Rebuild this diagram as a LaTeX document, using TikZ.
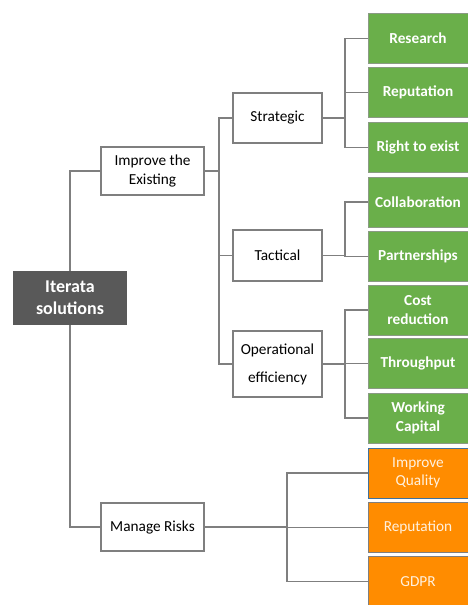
\documentclass[tikz,border=0pt]{standalone}
\usepackage{fontspec}
\setmainfont{Carlito}
\definecolor{conn}{HTML}{7F7F7F}
\definecolor{rootfill}{HTML}{595959}
\definecolor{greenfill}{HTML}{6AAF4A}
\definecolor{greenline}{HTML}{8A9A84}
\definecolor{orangefill}{HTML}{FF8C00}
\definecolor{orangetext}{HTML}{FFF1DE}
\definecolor{blueline}{HTML}{41719C}
\begin{document}
\begin{tikzpicture}[x=1pt,y=-1pt,
  every node/.style={inner sep=0pt, align=center},
  rootbox/.style={rectangle, fill=rootfill, text=white, font=\fontsize{18}{22}\selectfont\bfseries, minimum width=114pt, minimum height=54pt},
  midbox/.style={rectangle, draw=conn, line width=1.2pt, fill=white, text=black, font=\fontsize{15.3}{18.5}\selectfont},
  greenbox/.style={rectangle, draw=greenline, line width=1pt, fill=greenfill, text=white, font=\fontsize{15.3}{18.5}\selectfont\bfseries, minimum width=100pt, minimum height=50pt},
  orangebox/.style={rectangle, draw=conn, line width=1pt, fill=orangefill, text=orangetext, font=\fontsize{15.3}{18.5}\selectfont, minimum width=100pt, minimum height=50pt},
  conline/.style={draw=conn, line width=1.5pt}
]
\useasboundingbox (0,0) rectangle (467,605);
\fill[white] (0,0) rectangle (467,605);

% nodes
\node[rootbox] (root) at (70,298) {Iterata\\solutions};
\node[midbox, minimum width=103pt, minimum height=48pt] (improve) at (152.5,171) {Improve the\\Existing};
\node[midbox, minimum width=103pt, minimum height=48pt] (manage) at (152.5,527) {Manage Risks};
\node[midbox, minimum width=89pt, minimum height=50pt] (strategic) at (277.5,118) {Strategic};
\node[midbox, minimum width=89pt, minimum height=51pt] (tactical) at (277.5,255.5) {Tactical};
\node[midbox, minimum width=89pt, minimum height=66pt, font=\fontsize{15.3}{28}\selectfont] (operational) at (277.5,364) {Operational\\efficiency};

\node[greenbox] (research) at (418,38.5) {Research};
\node[greenbox] (reputation) at (418,92.5) {Reputation};
\node[greenbox] (right) at (418,147.5) {Right to exist};
\node[greenbox] (collab) at (418,202) {Collaboration};
\node[greenbox] (partner) at (418,256.5) {Partnerships};
\node[greenbox] (cost) at (418,310) {Cost\\reduction};
\node[greenbox] (through) at (418,363.5) {Throughput};
\node[greenbox] (working) at (418,418) {Working\\Capital};

\node[orangebox, draw=blueline] (quality) at (418,473) {Improve\\Quality};
\node[orangebox] (oreputation) at (418,527.5) {Reputation};
\node[orangebox] (gdpr) at (418,581.5) {GDPR};

% junction coordinates
\coordinate (j1) at (219,171);
\coordinate (j2) at (345,118);
\coordinate (j3) at (345,255.5);
\coordinate (j4) at (345,364);
\coordinate (j5) at (287,527);

% connectors
\draw[conline] (root.north) |- (improve.west);
\draw[conline] (root.south) |- (manage.west);

\draw[conline] (improve.east) -- (j1);
\draw[conline] (j1) |- (strategic.west);
\draw[conline] (j1) |- (operational.west);
\draw[conline] (tactical.west) -- (tactical.west -| j1);

\draw[conline] (strategic.east) -- (j2);
\draw[conline] (j2) |- (research.west);
\draw[conline] (j2) |- (right.west);
\draw[conline] (reputation.west) -- (reputation.west -| j2);

\draw[conline] (tactical.east) -- (j3);
\draw[conline] (j3) |- (collab.west);
\draw[conline] (j3) |- (partner.west);

\draw[conline] (operational.east) -- (j4);
\draw[conline] (j4) |- (cost.west);
\draw[conline] (j4) |- (working.west);
\draw[conline] (j4) |- (through.west);

\draw[conline] (manage.east) -- (j5);
\draw[conline] (j5) |- (quality.west);
\draw[conline] (j5) |- (gdpr.west);
\draw[conline] (j5) |- (oreputation.west);
\end{tikzpicture}
\end{document}
